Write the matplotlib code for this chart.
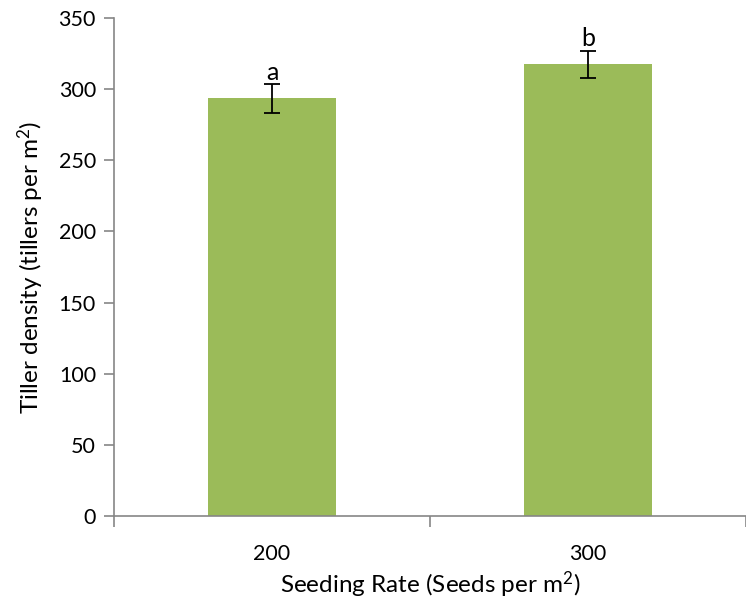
import matplotlib
matplotlib.use('Agg')
from matplotlib import pyplot as plt
import numpy as np

rates = ['200', '300']
tillers = [293.5, 317.5]
errors = [10, 9.5]
letters = ['a', 'b']

plt.rcParams['font.family'] = ['Lato', 'DejaVu Sans']
plt.rcParams['mathtext.fontset'] = 'custom'
plt.rcParams['mathtext.rm'] = 'Lato'
plt.rcParams['mathtext.default'] = 'regular'

axcol = '#868686'

fig = plt.figure(figsize=(7.46, 6), dpi=100)
ax = fig.add_axes([0.1528, 0.14, 0.8472, 0.83])

x = np.arange(len(rates))
ax.bar(x, tillers, width=0.405, color='#9BBB59', zorder=2)
ax.errorbar(x, tillers, yerr=errors, fmt='none', ecolor='black',
            elinewidth=1.3, capsize=6, capthick=1.3, zorder=3)
# significance letters sit just above each error bar
for xi, t, e, lab in zip(x, tillers, errors, letters):
    ax.text(xi, t + e + 3, lab, ha='center', va='baseline', fontsize=18)

ax.set_xlim(-0.5, 1.5)
ax.set_ylim(0, 350)
ax.set_yticks(np.arange(0, 351, 50))
ax.set_xticks(x)
ax.set_xticklabels(rates)
ax.set_xticks([-0.5, 0.5, 1.5], minor=True)

ax.tick_params(axis='x', which='major', length=0, labelsize=15.5, pad=20)
ax.tick_params(axis='x', which='minor', length=8, color=axcol, width=1.2)
ax.tick_params(axis='y', length=7, color=axcol, width=1.2, labelsize=15.5, pad=6)

for s in ['top', 'right']:
    ax.spines[s].set_visible(False)
for s in ['left', 'bottom']:
    ax.spines[s].set_color(axcol)
    ax.spines[s].set_linewidth(1.2)

ax.set_xlabel('Seeding Rate (Seeds per m$^2$)', fontsize=17.5, labelpad=4)
ax.set_ylabel('Tiller density (tillers per m$^2$)', fontsize=17.5, labelpad=9)

fig.savefig('out.png', dpi=100)
